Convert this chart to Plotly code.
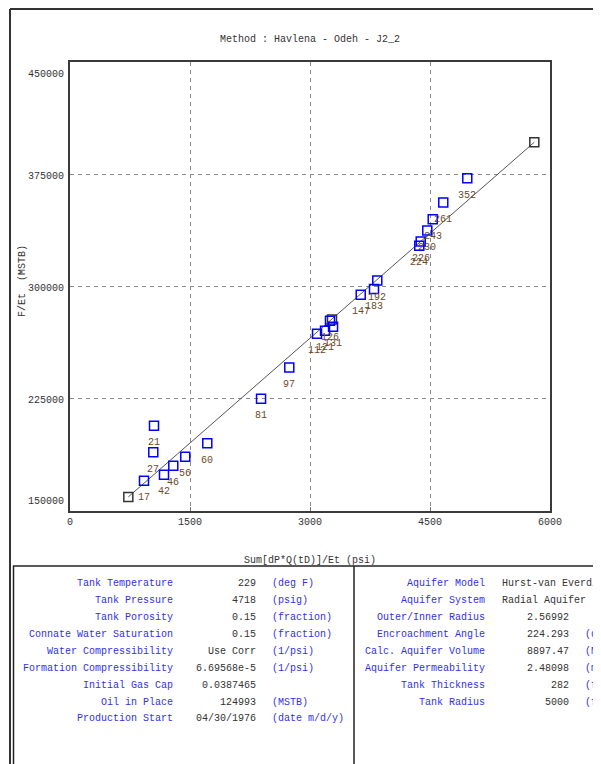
import plotly.graph_objects as go

# ---------------- data ----------------
pt_labels = ["17", "21", "27", "42", "46", "56", "60", "81", "97",
             "112", "121", "126", "131", "147", "183", "192",
             "224", "226", "230", "243", "261", "352"]
pt_x = [925, 1050, 1041, 1175, 1291, 1441, 1716, 2388, 2741,
        3088, 3188, 3250, 3288, 3634, 3800, 3841,
        4366, 4384, 4466, 4534, 4666, 4966]
pt_y = [170290, 207010, 189190, 174300, 180310, 186320, 195200, 225040, 245930,
        268430, 270430, 277110, 273100, 294470, 298270, 304020,
        327180, 330050, 337400, 345000, 356090, 372380]

fit_x = [729, 3275, 5804]
fit_y = [159410, 278000, 396410]

x_ticks = [0, 1500, 3000, 4500, 6000]
x_ticktext = ["0", "1500", "3000", "4500", "6000"]
y_ticks = [150000, 225000, 300000, 375000, 450000]
y_ticktext = ["150000", "225000", "300000", "375000", "450000"]

title_text = "Method : Havlena - Odeh - J2_2"
x_title = "Sum[dP*Q(tD)]/Et (psi)"
y_title = "F/Et  (MSTB)"

left_names = ["Tank Temperature", "Tank Pressure", "Tank Porosity",
              "Connate Water Saturation", "Water Compressibility",
              "Formation Compressibility", "Initial Gas Cap", "Oil in Place",
              "Production Start"]
left_values = ["229", "4718", "0.15", "0.15", "Use Corr", "6.69568e-5",
               "0.0387465", "124993", "04/30/1976"]
left_units = ["(deg F)", "(psig)", "(fraction)", "(fraction)", "(1/psi)",
              "(1/psi)", "", "(MSTB)", "(date m/d/y)"]

right_names = ["Aquifer Model", "Aquifer System", "Outer/Inner Radius",
               "Encroachment Angle", "Calc. Aquifer Volume",
               "Aquifer Permeability", "Tank Thickness", "Tank Radius"]
right_values = ["Hurst-van Everdingen", "Radial Aquifer", "2.56992", "224.293",
                "8897.47", "2.48098", "282", "5000"]
right_units = ["", "", "", "(deg)", "(MMbbl)", "(md)", "(feet)", "(feet)"]

# ---------------- layout geometry ----------------
OFF = 8                      # page body margin
W, H = 601 - OFF, 764 - OFF
PLOT_L, PLOT_R, PLOT_T, PLOT_B = 70, 550, 62, 511   # page pixels
L = PLOT_L - OFF
T = PLOT_T - OFF
R = W - (PLOT_R - OFF)
B = H - (PLOT_B - OFF)
PW = W - L - R
PH = H - T - B

def fx(px):
    return (px - OFF - L) / PW

def fy(py):
    return (H - B - (py - OFF)) / PH

FONT = "Liberation Mono"
BLUE_TXT = "#3030f0"
DARK_TXT = "#333333"
LBL_TXT = "#6a4a2a"

fig = go.Figure()

fig.add_trace(go.Scatter(
    x=fit_x, y=fit_y, mode="lines+markers",
    line=dict(color="#555555", width=1),
    marker=dict(symbol="square-open", size=9, color="#333333",
                line=dict(width=1.5, color="#333333")),
    showlegend=False, hoverinfo="skip"))

fig.add_trace(go.Scatter(
    x=pt_x, y=pt_y, mode="markers",
    marker=dict(symbol="square-open", size=9, color="#0000ff",
                line=dict(width=1.5, color="#0000ff")),
    showlegend=False))

annotations = []
for lx, ly, lt in zip(pt_x, pt_y, pt_labels):
    annotations.append(dict(x=lx, y=ly, text=lt, showarrow=False,
                            xref="x", yref="y", yshift=-17,
                            xanchor="center", yanchor="middle",
                            font=dict(family=FONT, size=10, color=LBL_TXT)))

# y tick labels (drawn as text so the end labels sit inside the frame, as in the reference)
y_label_shift = {0: 10, len(y_ticks) - 1: -12}
for i, (tv, tt) in enumerate(zip(y_ticks, y_ticktext)):
    annotations.append(dict(x=fx(66), y=tv, xref="paper", yref="y", text=tt,
                            showarrow=False, xanchor="right", yanchor="middle",
                            yshift=y_label_shift.get(i, -2),
                            font=dict(family=FONT, size=10, color=DARK_TXT)))

def txt(x, y, text, color, anchor="center", angle=0):
    return dict(x=fx(x), y=fy(y), xref="paper", yref="paper", text=text,
                showarrow=False, xanchor=anchor, yanchor="middle", textangle=angle,
                font=dict(family=FONT, size=10, color=color))

# titles
annotations.append(txt(310, 40, title_text, DARK_TXT))
annotations.append(txt(310, 560, x_title, DARK_TXT))
annotations.append(txt(22, 281, y_title, DARK_TXT, angle=-90))

# tables
for i, (n, v, u) in enumerate(zip(left_names, left_values, left_units)):
    yy = 583.3 + i * 16.96
    annotations.append(txt(175, yy, n, BLUE_TXT, "right"))
    annotations.append(txt(258, yy, v, DARK_TXT, "right"))
    if u:
        annotations.append(txt(270, yy, u, BLUE_TXT, "left"))

for i, (n, v, u) in enumerate(zip(right_names, right_values, right_units)):
    yy = 583.3 + i * 16.96
    annotations.append(txt(487, yy, n, BLUE_TXT, "right"))
    if i < 2:
        annotations.append(txt(500, yy, v, DARK_TXT, "left"))
    else:
        annotations.append(txt(571, yy, v, DARK_TXT, "right"))
    if u:
        annotations.append(txt(583, yy, u, BLUE_TXT, "left"))

def hline(x0, x1, y, color, width):
    return dict(type="line", xref="paper", yref="paper", x0=fx(x0), x1=fx(x1),
                y0=fy(y), y1=fy(y), line=dict(color=color, width=width))

def vline(x, y0, y1, color, width):
    return dict(type="line", xref="paper", yref="paper", x0=fx(x), x1=fx(x),
                y0=fy(y0), y1=fy(y1), line=dict(color=color, width=width))

shapes = [
    hline(10, 610, 9, "#333333", 2),
    vline(10, 9, 780, "#333333", 2),
    hline(13, 610, 566, "#222222", 1.5),
    vline(13.5, 566, 780, "#222222", 1.5),
    vline(354, 566, 780, "#222222", 1.5),
]

axis_font = dict(family=FONT, size=10, color=DARK_TXT)
fig.update_layout(
    width=W, height=H,
    margin=dict(l=L, r=R, t=T, b=B, pad=0),
    paper_bgcolor="white", plot_bgcolor="white",
    showlegend=False,
    annotations=annotations,
    shapes=shapes,
    xaxis=dict(range=[0, 6000], tickvals=x_ticks, ticktext=x_ticktext,
               showgrid=True, gridcolor="#8a8a8a", gridwidth=1, griddash="4px,4px",
               zeroline=False, showline=True, mirror=True, linecolor="#3a3a3a", linewidth=2,
               ticks="inside", ticklen=4, tickcolor="#777777",
               tickfont=axis_font, fixedrange=True),
    yaxis=dict(range=[150000, 450000], tickvals=y_ticks, showticklabels=False,
               showgrid=True, gridcolor="#8a8a8a", gridwidth=1, griddash="4px,4px",
               zeroline=False, showline=True, mirror=True, linecolor="#3a3a3a", linewidth=2,
               ticks="", fixedrange=True),
)

fig.write_html("out.html")
